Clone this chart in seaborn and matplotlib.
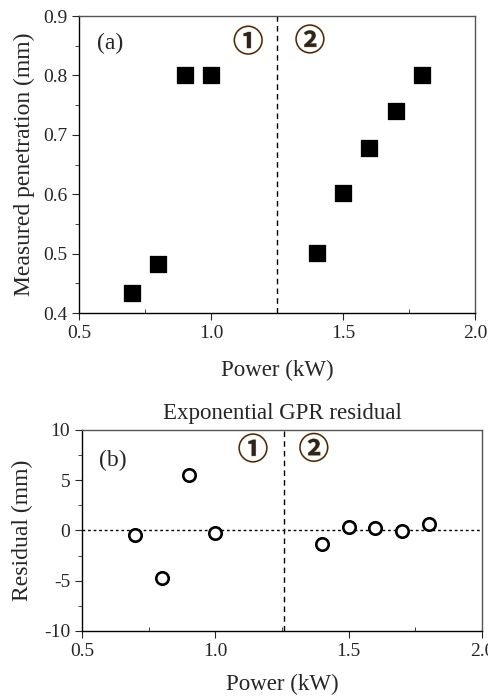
import numpy as np
import pandas as pd
import matplotlib
matplotlib.use("Agg")
import matplotlib.pyplot as plt
import matplotlib.patheffects as pe
import seaborn as sns
from matplotlib.ticker import MultipleLocator

# measured penetration vs laser power
power = [0.7, 0.8, 0.9, 1.0, 1.4, 1.5, 1.6, 1.7, 1.8]
penetration = [0.434, 0.483, 0.801, 0.801, 0.501, 0.603, 0.678, 0.740, 0.801]

# exponential GPR residuals
residual = [-0.47, -4.75, 5.48, -0.27, -1.33, 0.37, 0.20, -0.07, 0.66]

boundary = 1.25

df = pd.DataFrame({"power": power, "penetration": penetration, "residual": residual})

sns.set_style("ticks")
plt.rcParams["font.family"] = ["Liberation Serif", "DejaVu Serif"]
circ_font = ["Noto Sans CJK JP", "DejaVu Sans"]
halo = [pe.withStroke(linewidth=0.6, foreground="#e0a060")]

fig = plt.figure(figsize=(4.88, 6.96), dpi=100)
ax1 = fig.add_axes([0.162, 0.550, 0.811, 0.427])
ax2 = fig.add_axes([0.168, 0.0934, 0.820, 0.289])

# ── (a) measured penetration ────────────────────────────────────────────────
sns.scatterplot(data=df, x="power", y="penetration", marker="s", s=135,
                color="black", edgecolor="black", ax=ax1, zorder=3)
ax1.axvline(boundary, color="black", linestyle=(0, (4, 3)), linewidth=1)
ax1.set_xlim(0.5, 2.0)
ax1.set_ylim(0.4, 0.9)
ax1.xaxis.set_major_locator(MultipleLocator(0.5))
ax1.xaxis.set_minor_locator(MultipleLocator(0.25))
ax1.yaxis.set_major_locator(MultipleLocator(0.1))
ax1.yaxis.set_minor_locator(MultipleLocator(0.05))
ax1.set_xticklabels([f"{v:.1f}" for v in ax1.get_xticks()])
ax1.set_yticklabels([f"{v:.1f}" for v in ax1.get_yticks()])
ax1.set_xlabel("Power (kW)", fontsize=16.5, labelpad=13)
ax1.set_ylabel("Measured penetration (mm)", fontsize=17, labelpad=6)
ax1.text(0.617, 0.854, "(a)", fontsize=17, ha="center", va="center")
for xx, yy, lab in [(1.141, 0.855, "①"), (1.375, 0.857, "②")]:
    ax1.text(xx, yy, lab, fontsize=22, fontweight="bold", family=circ_font,
             ha="center", va="center", path_effects=halo)

# ── (b) residuals ───────────────────────────────────────────────────────────
sns.scatterplot(data=df, x="power", y="residual", marker="o", s=80,
                facecolor="white", edgecolor="black", linewidth=1.9, ax=ax2, zorder=3)
ax2.axvline(boundary + 0.006, color="black", linestyle=(0, (4, 3)), linewidth=1)
ax2.axhline(0, color="black", linestyle=(0, (2, 2)), linewidth=1)
ax2.set_xlim(0.5, 2.0)
ax2.set_ylim(-10, 10)
ax2.xaxis.set_major_locator(MultipleLocator(0.5))
ax2.xaxis.set_minor_locator(MultipleLocator(0.25))
ax2.yaxis.set_major_locator(MultipleLocator(5))
ax2.yaxis.set_minor_locator(MultipleLocator(2.5))
ax2.set_xticklabels([f"{v:.1f}" for v in ax2.get_xticks()])
ax2.set_yticklabels([f"{int(v)}" for v in ax2.get_yticks()])
ax2.set_xlabel("Power (kW)", fontsize=16.5, labelpad=10)
ax2.set_ylabel("Residual (mm)", fontsize=17, labelpad=8)
ax2.set_title("Exponential GPR residual", fontsize=16.5, pad=8)
ax2.text(0.616, 6.94, "(b)", fontsize=17, ha="center", va="center")
for xx, yy, lab in [(1.141, 7.94, "①"), (1.369, 8.0, "②")]:
    ax2.text(xx, yy, lab, fontsize=22, fontweight="bold", family=circ_font,
             ha="center", va="center", path_effects=halo)

for ax in (ax1, ax2):
    ax.tick_params(axis="both", which="major", labelsize=14, direction="out", length=5)
    ax.tick_params(axis="x", which="minor", direction="in", length=3)
    ax.tick_params(axis="y", which="minor", direction="out", length=3)
    for sp in ax.spines.values():
        sp.set_visible(True)
        sp.set_linewidth(1.0)
        sp.set_color("black")
    ax.spines["top"].set_color("#555555")
    ax.spines["right"].set_color("#555555")
    if ax.get_legend():
        ax.get_legend().remove()

plt.savefig("out.png", dpi=100)
plt.close()
